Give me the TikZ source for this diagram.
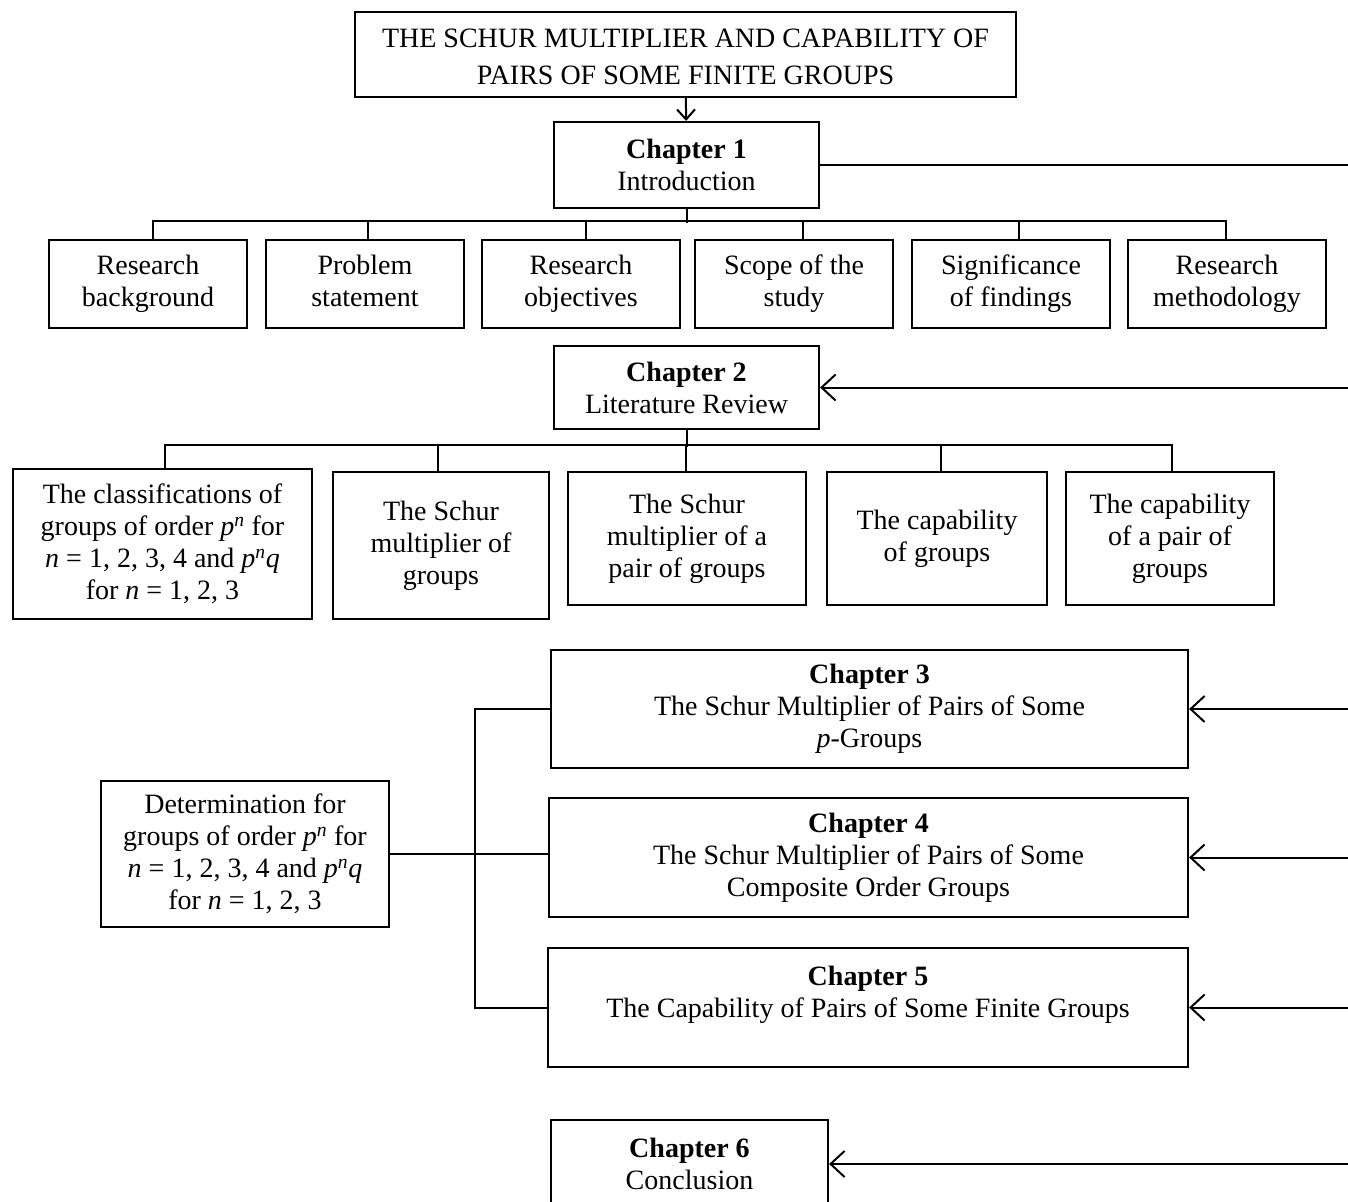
\documentclass[tikz,border=0pt]{standalone}
\usepackage{fontspec}
\setmainfont{Liberation Serif}
\usetikzlibrary{arrows.meta}

\begin{document}
\begin{tikzpicture}[x=1pt,y=-1pt,line width=2pt,
                    >={Straight Barb[length=14pt,width=26pt]}]
          \tikzstyle{box}=[draw,line width=2.2pt,align=center,inner sep=0pt,
                           font=\fontsize{28}{32}\selectfont]
          \useasboundingbox (0,0) rectangle (1348,1201);
          \clip (0,0) rectangle (1348,1201);
          \coordinate (edge) at (1348,0);

          % title and chapter 1
          \node[box,minimum width=661pt,minimum height=85pt,
                font=\fontsize{28}{37}\selectfont] (title) at (685.5,54.5)
                {\rule{0pt}{24pt}THE SCHUR MULTIPLIER AND CAPABILITY OF\\PAIRS OF SOME FINITE GROUPS};
          \node[box,minimum width=265pt,minimum height=86pt] (ch1) at (686.5,165)
                {\textbf{Chapter 1}\\Introduction};

          \node[box,minimum width=198pt,minimum height=88pt] (rb) at (148,284) {Research\\background};
          \node[box,minimum width=198pt,minimum height=88pt] (ps) at (365,284) {Problem\\statement\vphantom{g}};
          \node[box,minimum width=198pt,minimum height=88pt] (ro) at (581,284) {Research\\objectives};
          \node[box,minimum width=198pt,minimum height=88pt] (ss) at (794,284) {Scope of the\\study};
          \node[box,minimum width=198pt,minimum height=88pt] (sf) at (1011,284) {Significance\\of findings};
          \node[box,minimum width=198pt,minimum height=88pt] (rm) at (1227,284) {Research\\methodology};

          % chapter 2
          \node[box,minimum width=265pt,minimum height=83pt] (ch2) at (686.5,387.5)
                {\textbf{Chapter 2}\\Literature Review};

          \node[box,minimum width=299pt,minimum height=150pt] (c1) at (162.5,544)
                {The classifications of\\groups of order \textit{p}\textsuperscript{\textit{n}} for\\
                 \textit{n} = 1, 2, 3, 4 and \textit{p}\textsuperscript{\textit{n}}\textit{q}\\for \textit{n} = 1, 2, 3};
          \node[box,minimum width=216pt,minimum height=147pt] (c2) at (441,545.5)
                {The Schur\\multiplier of\\groups};
          \node[box,minimum width=238pt,minimum height=133pt] (c3) at (687,538.5)
                {The Schur\\multiplier of a\\pair of groups};
          \node[box,minimum width=220pt,minimum height=133pt] (c4) at (937,538.5)
                {The capability\\of groups};
          \node[box,minimum width=208pt,minimum height=133pt] (c5) at (1170,538.5)
                {The capability\\of a pair of\\groups};

          % chapters 3 to 6
          \node[box,minimum width=637pt,minimum height=118pt] (ch3) at (869.5,709)
                {\textbf{Chapter 3}\\The Schur Multiplier of Pairs of Some\\\textit{p}-Groups};
          \node[box,minimum width=639pt,minimum height=119pt] (ch4) at (868.5,857.5)
                {\textbf{Chapter 4}\\The Schur Multiplier of Pairs of Some\\Composite Order Groups};
          \node[box,minimum width=640pt,minimum height=119pt] (ch5) at (868,1007.5)
                {\textbf{Chapter 5}\\The Capability of Pairs of Some Finite Groups\\\mbox{}};
          \node[box,minimum width=277pt,minimum height=88pt] (ch6) at (689.5,1164)
                {\textbf{Chapter 6}\\Conclusion};

          \node[box,minimum width=288pt,minimum height=146pt] (det) at (245,854)
                {Determination for\\groups of order \textit{p}\textsuperscript{\textit{n}} for\\
                 \textit{n} = 1, 2, 3, 4 and \textit{p}\textsuperscript{\textit{n}}\textit{q}\\for \textit{n} = 1, 2, 3};
          \coordinate (join) at (475,857.5);

          % connectors
          \draw[->,>={Straight Barb[length=10pt,width=18pt]}] (title) -- (ch1);
          \draw (ch1.east) -- (ch1.east -| edge);

          \draw (ch1.south) -- ++(0,14);
          \draw (rb.north -| 153,0) -- ++(0,-18) -| (rm.north -| 1226,0);
          \foreach \n/\xx in {ps/368,ro/586,ss/803,sf/1019}
            \draw (\n.north -| \xx,0) -- ++(0,-18);

          \draw (ch2.south) -- ++(0,17);
          \draw (c1.north -| 165,0) -- ++(0,-23) -| (c5.north -| 1172,0);
          \foreach \n/\xx in {c2/438,c3/686,c4/941}
            \draw (\n.north -| \xx,0) -- (\xx,446);

          \foreach \n in {ch2,ch3,ch4,ch5,ch6}
            \draw[->] (\n.east -| edge) -- (\n.east);

          \draw (det.east) -- (det.east -| ch4.west);
          \draw (ch3.west) -| (join) |- (ch5.west);
        \end{tikzpicture}
\end{document}
